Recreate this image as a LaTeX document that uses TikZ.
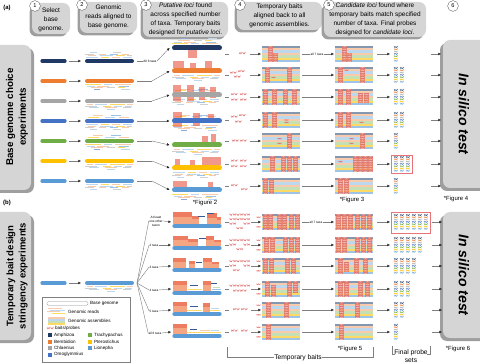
\documentclass[tikz,border=0pt]{standalone}
\usepackage{fontspec}
\setmainfont{Liberation Sans}
\usetikzlibrary{arrows.meta}
\definecolor{cNavy}{HTML}{1F3864}
\definecolor{cOrange}{HTML}{ED7D31}
\definecolor{cGray}{HTML}{A5A5A5}
\definecolor{cBlue}{HTML}{4472C4}
\definecolor{cGreen}{HTML}{70AD47}
\definecolor{cYellow}{HTML}{FFC000}
\definecolor{cLBlue}{HTML}{5B9BD5}
\definecolor{boxfill}{HTML}{D5D5D5}
\definecolor{boxshadow}{HTML}{9E9E9E}
\definecolor{hl}{HTML}{E8543F}
\definecolor{hlo}{HTML}{F4A582}
\definecolor{pinkw}{HTML}{E06C6C}
\definecolor{rPeach}{HTML}{F8CBAD}
\definecolor{rBlue}{HTML}{BDD7EE}
\definecolor{rBlueD}{HTML}{9DC3E6}
\definecolor{rYellow}{HTML}{FFD966}
\definecolor{rGray}{HTML}{D0D0D0}
\definecolor{rGreen}{HTML}{C5E0B4}
\definecolor{rNavy}{HTML}{8EA9DB}
\definecolor{rNavyD}{HTML}{3A5A95}
\definecolor{aNavy}{HTML}{8497B0}
\definecolor{linec}{HTML}{7F7F7F}
\definecolor{redbox}{HTML}{E8737A}
\tikzset{
  conn/.style={draw=linec, line width=0.6pt},
  arr/.style={conn, -{Triangle[length=1.3mm,width=1.2mm,color=black!85]}},
  htext/.style={align=center, font=\fontsize{9.2}{12.8}\selectfont, inner sep=0pt},
  numc/.style={circle, draw=black!65, fill=white, line width=0.5pt, inner sep=0pt, minimum size=5.4mm, font=\fontsize{8}{8}\selectfont},
  tinyl/.style={font=\fontsize{4.5}{5.6}\selectfont, inner sep=0.6pt, align=center},
  figl/.style={font=\fontsize{8.5}{9}\selectfont, inner sep=0pt},
  legt/.style={font=\fontsize{6.5}{7}\selectfont, anchor=west, inner sep=0pt},
  brk/.style={align=center, font=\fontsize{9.5}{11.5}\selectfont, inner sep=0pt},
}
\newcommand{\shbox}[6]{%
  \fill[boxshadow, rounded corners=3.5mm] ({#1+#5},{#2+#6}) rectangle ({#3+#5},{#4+#6});
  \fill[boxfill, rounded corners=3.5mm] (#1,#2) rectangle (#3,#4);}
\newcommand{\rdsegs}[5]{\foreach \ra/\rb/\rd/\rc in {#5} {\draw[\rc, line width=1.3pt] ({#1+\ra},{#2+(\rd+#4)*#3}) -- ({#1+\rb},{#2+(\rd+#4)*#3});}}
\newcommand{\rdpat}[5]{\ifcase#5\or
 \rdsegs{#1}{#2}{#3}{#4}{1/13/0/rBlue,16/24/0/rYellow,27/35/0/rPeach,38/47/0/rBlue,3/11/1.6/rPeach,15/28/1.6/rBlue,31/40/1.6/rYellow,42/47/1.6/rGray,0/9/3.2/rGray,14/21/3.2/rPeach,25/33/3.2/rBlueD,37/44/3.2/rPeach,5/12/4.8/rBlue,28/36/4.8/rGray}\or
 \rdsegs{#1}{#2}{#3}{#4}{0/16/0/rYellow,19/27/0/rBlue,30/46/0/rPeach,2/10/1.6/rBlue,12/24/1.6/rPeach,34/44/1.6/rBlueD,6/18/3.2/rPeach,22/30/3.2/rGray,33/40/3.2/rYellow,9/15/4.8/rNavy,36/45/4.8/rBlue}\or
 \rdsegs{#1}{#2}{#3}{#4}{2/8/0/rPeach,10/22/0/rBlue,25/40/0/rYellow,42/48/0/rPeach,0/12/1.6/rGray,18/26/1.6/rYellow,29/37/1.6/rBlue,40/47/1.6/rBlue,4/14/3.2/rBlue,20/32/3.2/rPeach,38/46/3.2/rGray,22/30/4.8/rBlue}\or
 \rdsegs{#1}{#2}{#3}{#4}{3/14/0/rYellow,20/30/0/rBlue,34/44/0/rPeach,8/18/1.6/rPeach,26/36/1.6/rBlueD}\fi}
\newcommand{\asmblk}[3]{\foreach \bc [count=\bk from 0] in {aNavy,rPeach,rBlue,rPeach,rGreen,rYellow,rBlueD}
  {\fill[\bc] ({#1},{#2+\bk*2.4}) rectangle ({#1+#3},{#2+\bk*2.4+2.4});}}
\newcommand{\sww}[3]{\draw[#3, line width=0.35pt, line join=round] ({#1},{#2}) -- ++(0.5,1.3) -- ++(0.5,-0.9) -- ++(0.5,0.9) -- ++(0.5,-1.3) -- ++(0.5,1.3) -- ++(0.5,-0.9) -- ++(0.5,0.9) -- ++(0.5,-1.3);}
\newcommand{\redcol}[4]{%
  \fill[hl, opacity=0.72] ({#1},{#2+#3*2.4}) rectangle ({#1+5},{#2+#4*2.4});
  \pgfmathtruncatemacro\kend{#4-1}
  \foreach \kk in {#3,...,\kend} {\sww{#1+0.5}{#2+\kk*2.4+0.5}{white!55!pinkw}}}
\newcommand{\wpair}[2]{\draw[pinkw, line width=0.45pt, line join=round] ({#1},{#2}) -- ++(0.7,2) -- ++(0.7,-1.4) -- ++(0.7,1.4) -- ++(0.7,-2) ++(0.8,0) -- ++(0.7,2) -- ++(0.7,-1.4) -- ++(0.7,1.4) -- ++(0.7,-2);}
\newcommand{\probecol}[2]{\foreach \pc [count=\pk from 0] in {cNavy,cOrange,cGray,cBlue,cGreen,cYellow,cLBlue}
  {\draw[\pc, line width=0.55pt, line join=round] ({#1},{#2+\pk*2.3}) -- ++(0.9,1.7) -- ++(0.9,-1.2) -- ++(0.9,1.2) -- ++(0.9,-1.7);}}
\newcommand{\stk}[4]{%
  \fill[hlo] ({#1},{#3-2.4-#4}) rectangle ({#2},{#3-2.4});
  \fill[hl, opacity=0.5] ({#1},{#3-2.4-#4}) rectangle ({#2},{#3-2.4-0.55*#4});}

\begin{document}
\begin{tikzpicture}[x=0.5mm,y=-0.5mm]
\useasboundingbox (0,0) rectangle (480,363);

% ---------- header ----------
\shbox{32}{3}{70}{34}{-2.5}{2.5}
\shbox{80}{2}{137}{33}{-2.5}{2.5}
\shbox{143}{2}{228}{37}{-2.5}{2.5}
\shbox{237}{2}{322}{30}{-2.5}{2.5}
\shbox{324}{2}{426}{37}{-2.5}{2.5}
\node[htext] (h1) at (51,19.5) {Select\\base\\genome.};
\node[htext] (h2) at (108.5,17) {Genomic\\reads aligned to\\base genome.};
\node[htext] (h3) at (185.5,19) {\textit{Putative loci} found\\across specified number\\of taxa. Temporary baits\\designed for \textit{putative loci}.};
\node[htext] (h4) at (279.5,16) {Temporary baits\\aligned back to all\\genomic assemblies.};
\node[htext] (h5) at (375,19) {\textit{Candidate loci} found where\\temporary baits match specified\\number of taxa. Final probes\\designed for \textit{candidate loci}.};
\node[numc] (n1) at (35,6) {1};
\node[numc] (n2) at (82,5) {2};
\node[numc] (n3) at (146,5) {3};
\node[numc] (n4) at (240,5) {4};
\node[numc] (n5) at (329,5) {5};
\node[numc] (n6) at (453,6) {6};
\node[font=\bfseries\fontsize{8.5}{9}\selectfont, inner sep=0pt] (la) at (7,8) {(a)};
\node[font=\bfseries\fontsize{8.5}{9}\selectfont, inner sep=0pt] (lbb) at (7,203) {(b)};

% ---------- side boxes ----------
\shbox{-12}{45}{31}{190}{3}{3}
\shbox{-12}{212}{31}{340}{3}{3}
\node[rotate=90, align=center, font=\bfseries\fontsize{14}{18}\selectfont] (ta) at (17,117) {Base genome choice\\experiments};
\node[rotate=90, align=center, font=\bfseries\fontsize{13.5}{17.5}\selectfont] (tb) at (17,276) {Temporary bait design\\stringency experiments};
\shbox{443}{40}{495}{188}{-3}{3}
\shbox{443}{212}{495}{338}{-3}{3}
\node[rotate=-90, font=\bfseries\itshape\fontsize{20}{24}\selectfont] (isa) at (464,114) {In silico test};
\node[rotate=-90, font=\bfseries\itshape\fontsize{20}{24}\selectfont] (isb) at (464,275) {In silico test};

% ---------- part (a) rows ----------
\foreach \i/\yy/\col/\yc/\yk/\fl/\pa/\pb in {1/61/cNavy/48/54/-1/1/2, 2/81/cOrange/71/75/1/2/3, 3/101/cGray/95/97/1/3/1, 4/121/cBlue/121/120/1/1/2, 5/141/cGreen/145/141/1/2/3, 6/161/cYellow/168/164/1/3/1, 7/181/cLBlue/190/186/1/1/2}{
  \draw[\col, line width=1.6mm, line cap=round] (42,\yy) -- (65,\yy);
  \coordinate (a1e-\i) at (69,\yy);
  \coordinate (a2s-\i) at (81,\yy);
  \draw[arr] (a1e-\i) -- (a2s-\i);
  \rdpat{85}{\yy}{\fl}{3.6}{\pa}
  \draw[\col, line width=2mm, line cap=round] (87,\yy) -- (132,\yy);
  \coordinate (a2e-\i) at (137,\yy);
  \coordinate (a2k-\i) at (152,\yy);
  \coordinate (a3s-\i) at (169.5,\yc);
  \rdpat{172}{\yc}{\fl}{4.4}{\pb}
  \coordinate (a3e-\i) at (225,\yk);
  \coordinate (a3b-\i) at (229,\yk);
  \coordinate (a4p-\i) at (250,\yk);
  \coordinate (a4s-\i) at (261,\yk);
  \asmblk{262}{\yk-8.4}{38}
  \coordinate (a4e-\i) at (302,\yk);
  \coordinate (a5s-\i) at (334,\yk);
  \asmblk{335}{\yk-8.4}{38}
  \coordinate (a5e-\i) at (377,\yk);
  \coordinate (a6s-\i) at (390,\yk);
  \coordinate (a6e-\i) at (431,\yk);
  \coordinate (ais-\i) at (441,\yk);
  \draw[conn] (a3e-\i) -- (a3b-\i);
  \draw[arr] (a4p-\i) -- (a4s-\i);
  \draw[arr] (a5e-\i) -- (a6s-\i);
  \draw[arr] (a6e-\i) -- (ais-\i);
}
\rdpat{85}{121}{-1}{3.6}{4}
\rdpat{85}{141}{-1}{3.6}{4}
\rdpat{172}{95}{-1}{4.4}{4}
\rdpat{172}{121}{-1}{4.4}{4}
% col 3 highlights
\foreach \xa/\ya/\xb/\yb in {188/50.5/197/58, 173/61/184/68.5, 190/63/196/68.5, 205/61.5/212/68.5,
  173/85.5/181/101, 187/85.5/194/101, 199/87/205/100, 210/87/216/98,
  173/112/182/127, 193/113/200/126, 208/114/214/121,
  202/136/208/142, 211/134/216/142,
  175/159/180/165, 190/160/195/165, 202/157.5/221/165.5,
  173/181/187/187, 208/182/213/187}
  {\fill[hl, opacity=0.6] (\xa,\ya) rectangle (\xb,\yb);}
\foreach \col/\yc in {cNavy/48, cOrange/71, cGray/95, cBlue/121, cGreen/145, cYellow/168, cLBlue/190}
  {\draw[\col, line width=2.5mm, line cap=round] (174.5,\yc) -- (219.5,\yc);}
% connectors col2 -> col3
\node[tinyl] (all6) at (150,61) {All 6 taxa};
\draw[conn] (a2e-1) -- (all6.west);
\draw[arr] (all6.east) -- (a3s-1);
\foreach \i in {2,...,7} {\draw[conn] (a2e-\i) -- (a2k-\i); \draw[arr] (a2k-\i) -- (a3s-\i);}
% baits (a)
\foreach \x/\y in {239/52, 230/71.5, 238/70, 234/75.5, 231/93, 240/93, 231/98.5, 240/98.5,
  231/115.5, 239/114, 235/120.5, 232/139.5, 240/139.5, 231/159.5, 240/159.5, 231/165, 240/165, 231/184, 241/188}
  {\wpair{\x}{\y}}
% col4 -> col5
\node[tinyl] (all7a) at (317,54) {all 7 taxa};
\draw[conn] (a4e-1) -- (all7a.west);
\draw[arr] (all7a.east) -- (a5s-1);
\foreach \i in {2,...,7} {\draw[arr] (a4e-\i) -- (a5s-\i);}
% red columns (a) col 4 and col 5
\foreach \x/\t/\ka/\kb in {268/45.6/0/7, 273/45.6/3/7,
  265/66.6/0/7, 287/66.6/0/7,
  263/88.6/0/7, 272/88.6/0/7, 283/88.6/0/7, 292/88.6/0/7,
  263/111.6/0/7, 272/111.6/0/7,
  287/132.6/0/7,
  270/155.6/0/7, 281/155.6/0/7, 287/155.6/0/7, 293/155.6/0/7,
  263/177.6/0/7, 269/177.6/1/7,
  342/45.6/0/7, 347/45.6/3/7,
  338/66.6/0/7, 360/66.6/0/7,
  338/88.6/0/7, 346/88.6/0/7, 358/88.6/2/6, 364/88.6/2/6,
  338/111.6/0/7, 346/111.6/0/7,
  360/132.6/0/7,
  353/155.6/0/7, 358/155.6/0/7, 363/155.6/0/7, 368/155.6/0/7,
  338/177.6/0/7, 344/177.6/0/7}
  {\redcol{\x}{\t}{\ka}{\kb}}
\foreach \x/\t/\k in {271/66.6/4, 284/111.6/3, 284/111.6/4, 277/132.6/2, 277/132.6/4,
  344/66.6/1, 359/111.6/4, 349/132.6/2, 349/132.6/4, 338/155.6/2}
  {\sww{\x+0.5}{\t+\k*2.4+0.5}{pinkw}}
% probes (a)
\foreach \yk/\n in {54/1, 75/2, 97/2, 120/2, 141/1, 164/3, 186/1}
  {\foreach \m in {1,...,\n} {\probecol{394+(\m-1)*6}{\yk-8}}}
\draw[redbox, line width=0.8pt] (391.5,155) rectangle (412.5,173);
\node[figl] (f2) at (205,203) {*Figure 2};
\node[figl] (f3) at (352,200) {*Figure 3};
\node[figl] (f4) at (456,199) {*Figure 4};

% ---------- part (b) ----------
\draw[cLBlue, line width=1.6mm, line cap=round] (42,283) -- (65,283);
\coordinate (b1e) at (69,283);
\coordinate (b2s) at (81,283);
\draw[arr] (b1e) -- (b2s);
\rdpat{85}{283}{1}{3.6}{3}
\draw[cLBlue, line width=2mm, line cap=round] (87,283) -- (132,283);
\coordinate (fan) at (137,283);
\node[tinyl] (lb1) at (156,221) {At least\\one other\\taxon};
\node[tinyl] (lb2) at (154,245) {2 taxa};
\node[tinyl] (lb3) at (154,267) {3 taxa};
\node[tinyl] (lb4) at (154,290) {4 taxa};
\node[tinyl] (lb5) at (154,311) {5 taxa};
\node[tinyl] (lb6) at (155,333) {all 6 taxa};
\foreach \j/\kc in {1/222, 2/245, 3/266, 4/289, 5/310, 6/332}{
  \draw[conn] (fan) -- (lb\j.west);
  \coordinate (b3s-\j) at (171,\kc);
  \draw[arr] (lb\j.east) -- (b3s-\j);
  \coordinate (b3e-\j) at (225,\kc);
  \coordinate (b3b-\j) at (229,\kc);
  \coordinate (b4p-\j) at (251,\kc);
  \coordinate (b4s-\j) at (261,\kc);
  \asmblk{262}{\kc-8.4}{38}
  \coordinate (b4e-\j) at (302,\kc);
  \coordinate (b5s-\j) at (334,\kc);
  \asmblk{335}{\kc-8.4}{38}
  \coordinate (b5e-\j) at (377,\kc);
  \coordinate (b6s-\j) at (390,\kc);
  \coordinate (b6e-\j) at (432,\kc);
  \coordinate (bis-\j) at (442,\kc);
  \draw[conn] (b3e-\j) -- (b3b-\j);
  \draw[arr] (b4p-\j) -- (b4s-\j);
  \draw[arr] (b5e-\j) -- (b6s-\j);
  \draw[arr] (b6e-\j) -- (bis-\j);
}
\node[tinyl] (all7b) at (316,222) {all 7 taxa};
\draw[conn] (b4e-1) -- (all7b.west);
\draw[arr] (all7b.east) -- (b5s-1);
\foreach \j in {2,...,6} {\draw[arr] (b4e-\j) -- (b5s-\j);}
% col 3 stacks (b)
\foreach \xa/\xb/\yb/\h in {173/192/226/12, 192/199/226/8, 207/217/226/11, 217/221/226/7,
  173/188/248/10, 188/198/248/7, 206/214/248/10, 214/221/248/6,
  173/186/270/10, 189/195/270/7, 203/212/270/10, 212/219/270/6,
  173/187/293/10, 203/211/293/10,
  173/187/314/10, 203/210/314/9,
  173/187/336/10}
  {\stk{\xa}{\xb}{\yb}{\h}}
\foreach \xa/\xb/\yr/\cl in {198/205/216/rNavyD, 207/214/213/rNavyD, 199/206/238/rNavyD, 196/202/262/rNavyD,
  188/202/289.6/rYellow, 190/198/285/rNavyD, 211/217/283/rNavyD, 212/221/289.6/rBlueD, 213/220/287.5/rGreen,
  187/202/310.6/rYellow, 190/198/306/rNavyD, 210/220/310.6/rYellow, 211/219/308.5/rBlue,
  187/221/332.6/rYellow, 190/197/329/rNavyD, 200/210/330.5/rPeach, 211/219/330.5/rBlue}
  {\draw[\cl, line width=0.9pt] (\xa,\yr) -- (\xb,\yr);}
\foreach \yb in {226,248,270,293,314,336}
  {\draw[cLBlue, line width=2.2mm, line cap=round] (174.5,\yb) -- (219.5,\yb);}
% baits (b)
\foreach \x/\y in {229.5/213.5, 236.5/213.5, 243.5/213.5, 229.5/218, 236.5/218, 243.5/218, 229.5/222.5, 243.5/222.5, 236.5/227,
  229.5/239, 236.5/239, 243.5/239, 229.5/243.5, 243.5/243.5, 236.5/248,
  229.5/260, 236.5/260, 243.5/260, 229.5/264.5, 243.5/264.5, 233/269,
  229.5/284.5, 236.5/284.5, 243.5/284.5, 233/289.5, 240/289.5,
  233/308, 241/308, 231/329.5, 241/329.5}
  {\wpair{\x}{\y}}
% red columns (b)
\foreach \x/\t/\ka/\kb in {263/213.6/0/7, 268/213.6/0/7, 277/213.6/0/7, 282/213.6/0/7, 289/213.6/0/7, 295/213.6/0/7,
  264/236.6/0/7, 270/236.6/0/7, 283/236.6/0/7, 289/236.6/0/7, 295/236.6/0/7,
  263/257.6/0/7, 269/257.6/0/7, 285/257.6/0/7, 291/257.6/0/7,
  265/280.6/0/7, 271/280.6/2/7, 287/280.6/0/7, 293/280.6/0/5,
  266/301.6/0/7, 284/301.6/0/7,
  266/323.6/0/7,
  336/213.6/0/7, 342/213.6/0/7, 348/213.6/0/7, 355/213.6/0/7, 361/213.6/0/7, 367/213.6/0/7,
  336/236.6/0/7, 342/236.6/0/7, 355/236.6/0/7, 361/236.6/0/7, 367/236.6/0/7,
  338/257.6/0/7, 344/257.6/2/6, 354/257.6/0/7, 363/257.6/0/7,
  338/280.6/0/7, 344/280.6/0/7, 358/280.6/0/7, 365/280.6/0/7,
  339/301.6/0/7, 355/301.6/0/7,
  339/323.6/0/7}
  {\redcol{\x}{\t}{\ka}{\kb}}
\foreach \t in {213.6, 236.6, 257.6, 280.6, 301.6, 323.6}
  {\sww{256.5}{\t+2.4+0.5}{pinkw} \sww{256.5}{\t+12+0.5}{pinkw}}
% probes (b)
\foreach \kc/\n in {222/6, 245/5, 266/4, 289/3, 310/2, 332/1}
  {\foreach \m in {1,...,\n} {\probecol{394+(\m-1)*6}{\kc-8}}}
\draw[redbox, line width=0.8pt] (391.5,212) rectangle (430,233);
\node[figl] (f5) at (350,349) {*Figure 5};
\node[figl] (f6) at (458,349) {*Figure 6};
% brackets
\node[brk] (tbait) at (298,357.5) {Temporary baits};
\coordinate (tb1) at (227,347);
\coordinate (tb2) at (227,357.5);
\coordinate (tb3) at (373,357.5);
\coordinate (tb4) at (373,347);
\draw[conn] (tb1) -- (tb2) -- (tbait.west);
\draw[conn] (tbait.east) -- (tb3) -- (tb4);
\node[brk] (fps) at (411,356) {Final probe\\sets};
\coordinate (fp1) at (392,346);
\coordinate (fp2) at (392,354);
\coordinate (fp3) at (430,346);
\coordinate (fp4) at (430,354);
\draw[conn] (fp1) -- (fp2) -- ++(3,0);
\draw[conn] (fp3) -- (fp4) -- ++(-3,0);

% ---------- legend ----------
\draw[black!50, line width=0.5pt, fill=white] (42,297) rectangle (130,362.5);
\draw[black!45, line width=0.4pt, fill=white, rounded corners=0.7mm] (47,301.3) rectangle (88,305.3);
\node[legt] (lg1) at (90,303.5) {Base genome};
\draw[rPeach, line width=1.2pt] (48,308.3) -- (62,308.3);
\draw[rBlue, line width=1.2pt] (50,310.1) -- (65,310.1);
\draw[rPeach, line width=1.2pt] (47,311.9) -- (60,311.9);
\draw[rYellow, line width=1.2pt] (52,313.7) -- (65,313.7);
\node[legt] (lg2) at (68,311.5) {Genomic reads};
\foreach \bc [count=\bk from 0] in {rPeach,rBlue,rGreen,rYellow}
  {\fill[\bc] (48,{316.5+\bk*2}) rectangle (65,{318.5+\bk*2});}
\node[legt] (lg3) at (68,320.5) {Genomic assemblies};
\wpair{47}{327}
\node[legt] (lg4) at (55,328.3) {baits/probes};
\foreach \cl/\xx/\yy/\nm in {cNavy/48/335/Amphizoa, cOrange/48/341.5/Bembidion, cGray/48/348/Chlaenius, cBlue/48/354.5/Omoglymmius,
  cGreen/88/335/Trachypachus, cYellow/88/341.5/Pterostichus, cLBlue/88/348/Lionepha}
  {\fill[\cl] (\xx,{\yy-2}) rectangle ({\xx+4},{\yy+2});
   \node[legt] (lg-\nm) at ({\xx+6},\yy) {\nm};}
\end{tikzpicture}
\end{document}
